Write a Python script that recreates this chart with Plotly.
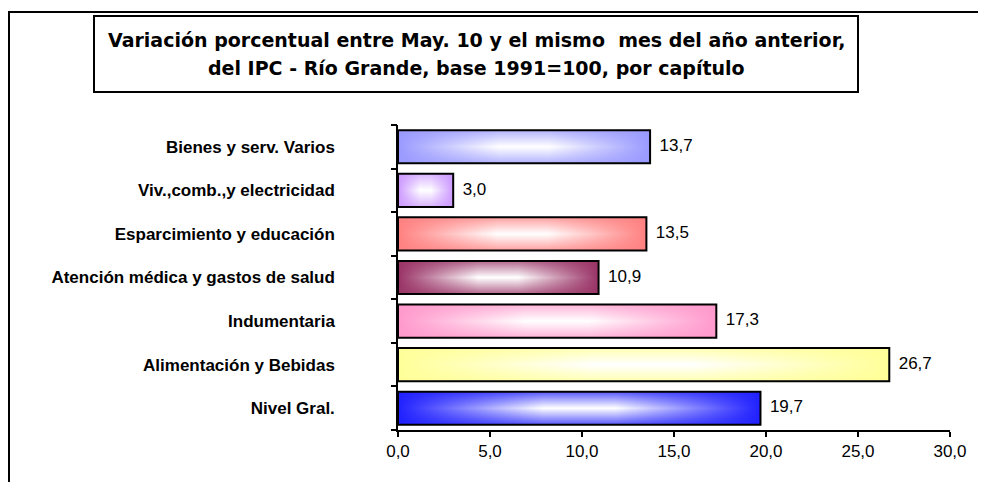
import plotly.graph_objects as go

# Data (bottom to top, as drawn)
categories = [
    "Nivel Gral.",
    "Alimentación y Bebidas",
    "Indumentaria",
    "Atención médica y gastos de salud",
    "Esparcimiento y educación",
    "Viv.,comb.,y electricidad",
    "Bienes y serv. Varios",
]
values = [19.7, 26.7, 17.3, 10.9, 13.5, 3.0, 13.7]
bar_colors = ["#2020ff", "#ffff99", "#ff99cc", "#993366", "#ff8080", "#cc99ff", "#9999ff"]
x_ticks = [0, 5, 10, 15, 20, 25, 30]

title_lines = [
    "Variación porcentual entre May. 10 y el mismo  mes del año anterior,",
    "del IPC - Río Grande, base 1991=100, por capítulo",
]

# Layout in page pixels; the page body adds an 8px margin around the figure
W, H = 986, 482
OFF = 8
PLOT_L, PLOT_R, PLOT_T, PLOT_B = 398 - OFF, 950 - OFF, 125 - OFF, 430 - OFF
HALF = 0.38  # half bar thickness in category units
FONT = "Liberation Sans, Arial, sans-serif"


def paper_x(px):
    return (px - OFF - PLOT_L) / (PLOT_R - PLOT_L)


def paper_y(py):
    return (PLOT_B - (py - OFF)) / (PLOT_B - PLOT_T)


def rgba(hex_color, alpha):
    h = hex_color.lstrip("#")
    r, g, b = int(h[0:2], 16), int(h[2:4], 16), int(h[4:6], 16)
    return f"rgba({r},{g},{b},{alpha})"


fig = go.Figure()

for i, (v, c) in enumerate(zip(values, bar_colors)):
    xs = [0, v, v, 0, 0]
    ys = [i - HALF, i - HALF, i + HALF, i + HALF, i - HALF]
    # horizontal gradient: colour at ends, white in the middle
    fig.add_trace(go.Scatter(
        x=xs, y=ys, mode="lines", fill="toself",
        line=dict(width=0),
        fillgradient=dict(type="horizontal",
                          colorscale=[[0, c], [0.4, "white"], [0.6, "white"], [1, c]]),
        hoverinfo="skip", showlegend=False,
    ))
    # vertical tint on top and bottom edges, with black outline
    fig.add_trace(go.Scatter(
        x=xs, y=ys, mode="lines", fill="toself",
        line=dict(width=2, color="black"),
        fillgradient=dict(type="vertical",
                          colorscale=[[0, rgba(c, 0.75)], [0.5, rgba(c, 0)], [1, rgba(c, 0.75)]]),
        hoverinfo="skip", showlegend=False,
    ))

# value labels
fig.add_trace(go.Scatter(
    x=values, y=list(range(len(values))), mode="text",
    text=["  " + f"{v:.1f}".replace(".", ",") for v in values],
    textposition="middle right",
    textfont=dict(family=FONT, size=17, color="black"),
    yaxis="y2", hoverinfo="skip", showlegend=False, cliponaxis=False,
))

# title: two lines inside a framed box
title_font = dict(family="DejaVu Sans, sans-serif", size=19, color="black", weight="bold")
annotations = [
    dict(text=line, xref="paper", yref="paper", x=paper_x(476), y=paper_y(y),
         xanchor="center", yanchor="middle", showarrow=False, font=title_font)
    for line, y in zip(title_lines, [40, 68])
]

n = len(categories)
fig.update_layout(
    width=W, height=H,
    margin=dict(l=PLOT_L, r=W - PLOT_R, t=PLOT_T, b=H - PLOT_B, pad=0),
    paper_bgcolor="white", plot_bgcolor="white",
    separators=",.",
    xaxis=dict(
        range=[0, 30], tickvals=x_ticks, tickformat=".1f",
        ticks="outside", ticklen=5, tickwidth=1.5, tickcolor="black",
        showline=True, linecolor="black", linewidth=1.5,
        showgrid=False, zeroline=False,
        tickfont=dict(family=FONT, size=17, color="black"),
    ),
    yaxis=dict(
        range=[-0.5, n - 0.5], tickvals=list(range(n)), ticktext=categories,
        ticks="", showline=True, linecolor="black", linewidth=1.5,
        showgrid=False, zeroline=False, ticklabelstandoff=58,
        tickfont=dict(family=FONT, size=17, color="black", weight="bold"),
    ),
    yaxis2=dict(
        overlaying="y", side="left", range=[-0.5, n - 0.5],
        tickvals=[k - 0.5 for k in range(n + 1)], showticklabels=False,
        ticks="outside", ticklen=6, tickwidth=1.5, tickcolor="black",
        showline=False, showgrid=False, zeroline=False,
    ),
    annotations=annotations,
    shapes=[
        # outer chart frame (left and top edges visible)
        dict(type="rect", xref="paper", yref="paper", layer="below",
             x0=paper_x(OFF + 1), x1=paper_x(1010), y0=paper_y(520), y1=paper_y(12),
             line=dict(color="black", width=2)),
        # title box
        dict(type="rect", xref="paper", yref="paper", layer="below",
             x0=paper_x(94), x1=paper_x(858), y0=paper_y(92), y1=paper_y(16),
             line=dict(color="black", width=2), fillcolor="white"),
    ],
)

fig.write_html("out.html")
